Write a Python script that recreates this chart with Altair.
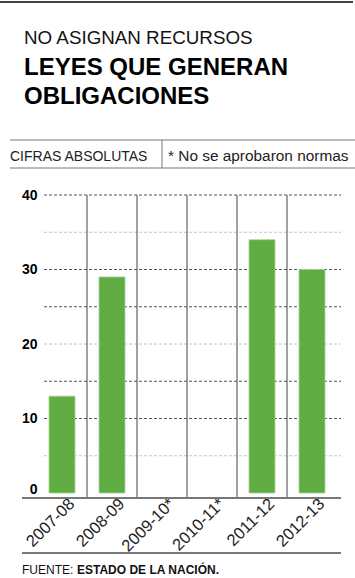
import altair as alt
import pandas as pd

# ---- data ----
categories = ["2007-08", "2008-09", "2009-10*", "2010-11*", "2011-12", "2012-13"]
values = [13, 29, 0, 0, 34, 30]
grid_values = [5, 10, 15, 20, 25, 30, 35, 40]
y_ticks = [0, 10, 20, 30, 40]

subtitle = "NO ASIGNAN RECURSOS"
title_lines = ["LEYES QUE GENERAN", "OBLIGACIONES"]
unit_label = "CIFRAS ABSOLUTAS"
note_label = "* No se aprobaron normas"
source_prefix = "FUENTE:"
source_name = "ESTADO DE LA NACIÓN."

df = pd.DataFrame({"periodo": categories, "leyes": values})
sep_df = pd.DataFrame({"periodo": categories[1:]})
grid_df = pd.DataFrame({"leyes": grid_values})
one = pd.DataFrame({"k": [0]})

FONT = "Liberation Sans"
NARROW = "Liberation Sans Narrow, Liberation Sans"
xscale = alt.Scale(domain=categories, paddingInner=0.48, paddingOuter=0.28, align=0.4286)
yscale = alt.Scale(domain=[0, 40])

xaxis = alt.Axis(title=None, labelAngle=-45, labelAlign="right", labelBaseline="middle",
                 labelFont=NARROW, labelFontSize=16.5, labelColor="#222222",
                 domain=False, ticks=False, labelPadding=8, labelOffset=10)
yaxis = alt.Axis(title=None, values=y_ticks, grid=False, domain=False, ticks=False,
                 labelFont=FONT, labelFontSize=14, labelFontWeight="bold", labelColor="#000000",
                 labelPadding=0,
                 labelOffset={"condition": {"test": "datum.value == 0", "value": -4}, "value": 0})

grid = alt.Chart(grid_df).mark_rule(strokeDash=[3, 2], strokeWidth=1).encode(
    y=alt.Y("leyes:Q", scale=yscale, axis=yaxis),
    x=alt.value(7),
    x2=alt.value(304),
    color=alt.condition("datum.leyes == 35 || datum.leyes == 20 || datum.leyes == 5",
                        alt.value("#c4c4c4"), alt.value("#555555")),
)

seps = alt.Chart(sep_df).mark_rule(color="#444444", strokeWidth=1, xOffset=-12).encode(
    x=alt.X("periodo:N", scale=xscale, bandPosition=0, axis=xaxis),
    y=alt.value(0),
    y2=alt.value(303),
)

bars = alt.Chart(df).transform_filter("datum.leyes > 0").mark_bar(
    color="#60ad43", stroke="#a8d492", strokeWidth=0.8
).encode(
    x=alt.X("periodo:N", scale=xscale, axis=xaxis),
    y=alt.Y("leyes:Q", scale=yscale, axis=yaxis),
)


def txt(text, x, y, size, weight="normal", color="#000000"):
    return alt.Chart(one).mark_text(
        text=text, align="left", baseline="alphabetic", font=FONT,
        fontSize=size, fontWeight=weight, color=color
    ).encode(x=alt.value(x), y=alt.value(y))


def hline(x1, x2, y, w=1, color="#555555"):
    return alt.Chart(one).mark_rule(color=color, strokeWidth=w).encode(
        x=alt.value(x1), x2=alt.value(x2), y=alt.value(y))


def vline(x, y1, y2, w=1, color="#555555"):
    return alt.Chart(one).mark_rule(color=color, strokeWidth=w).encode(
        x=alt.value(x), y=alt.value(y1), y2=alt.value(y2))


deco = [
    hline(-37, 316, -193, 2, "#444444"),
    txt(subtitle, -13, -151.5, 18.8, "normal", "#111111"),
    txt(title_lines[0], -13, -120, 24, "bold"),
    txt(title_lines[1], -13, -91.5, 24, "bold"),
    hline(-27, 318, -55, 1, "#777777"),
    hline(-27, 318, -27, 1, "#777777"),
    vline(125, -55, -27, 1, "#777777"),
    txt(unit_label, -27, -34, 14, "normal", "#222222"),
    txt(note_label, 131, -34, 15.4, "normal", "#222222"),
    hline(-15, 304, 303, 2, "#777777"),
    hline(-15, 304, 358, 2, "#777777"),
    txt(source_prefix, -15, 379, 12, "normal", "#111111"),
    txt(source_name, 40, 379, 12, "bold", "#111111"),
]

chart = alt.layer(grid, seps, bars, *deco).properties(
    width=304,
    height=298,
    padding={"left": 37, "top": 195, "right": 14, "bottom": 85},
    autosize=alt.AutoSizeParams(type="none"),
    background="white",
).configure_view(stroke=None)

chart.save("out.html", embed_options={"renderer": "svg", "actions": False})
